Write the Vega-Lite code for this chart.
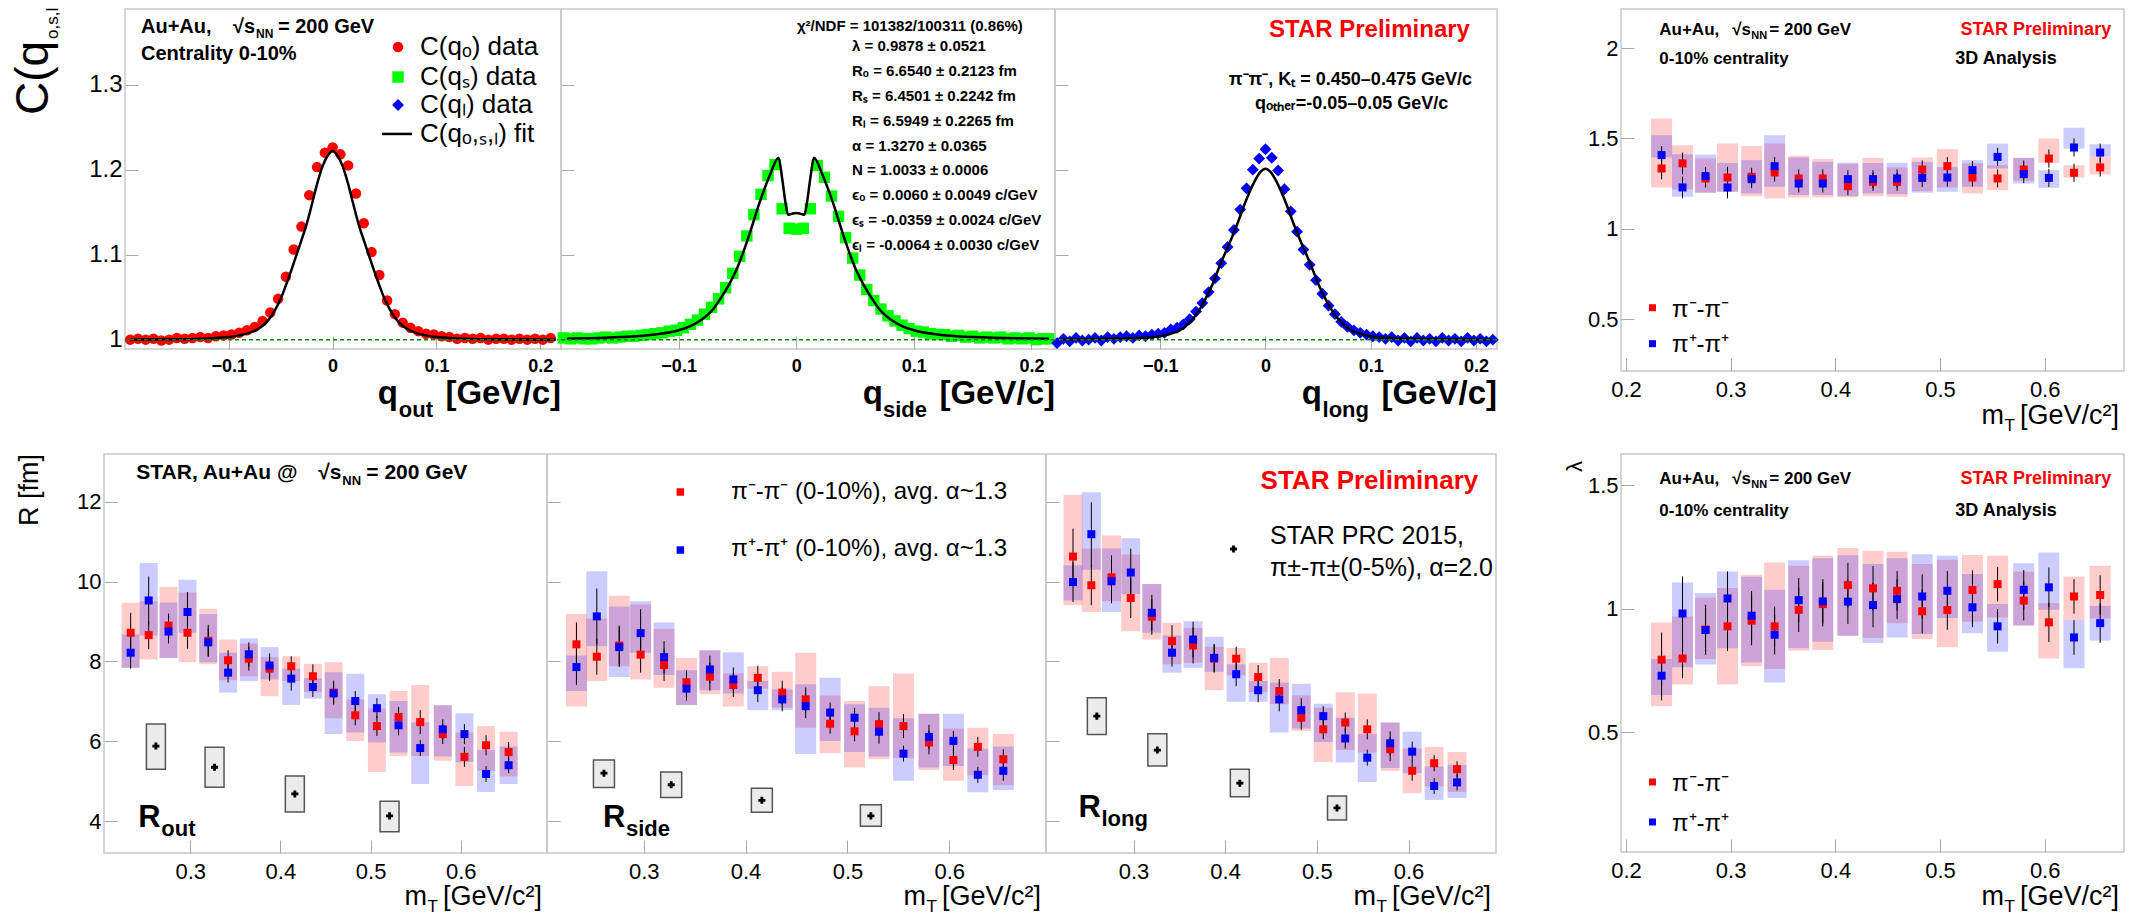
{
"$schema": "https://vega.github.io/schema/vega-lite/v6.json",
"padding": 0,
"autosize": {"type": "pad"},
"background": "#ffffff",
"spacing": 15,
"bounds": "full",
"datasets": {
"cq": [
{"d":"o","q":-0.195,"c":1.0},{"d":"o","q":-0.1875,"c":1.001},{"d":"o","q":-0.18,"c":1.0},{"d":"o","q":-0.1725,"c":1.001},{"d":"o","q":-0.165,"c":0.999},{"d":"o","q":-0.1575,"c":1.0},{"d":"o","q":-0.15,"c":1.002},{"d":"o","q":-0.1425,"c":1.001},{"d":"o","q":-0.135,"c":1.002},{"d":"o","q":-0.1275,"c":1.003},{"d":"o","q":-0.12,"c":1.002},{"d":"o","q":-0.1125,"c":1.004},{"d":"o","q":-0.105,"c":1.005},{"d":"o","q":-0.0975,"c":1.006},{"d":"o","q":-0.09,"c":1.008},{"d":"o","q":-0.0825,"c":1.011},{"d":"o","q":-0.075,"c":1.015},{"d":"o","q":-0.0675,"c":1.022},{"d":"o","q":-0.06,"c":1.032},{"d":"o","q":-0.0525,"c":1.048},{"d":"o","q":-0.045,"c":1.074},{"d":"o","q":-0.0375,"c":1.106},{"d":"o","q":-0.03,"c":1.133},{"d":"o","q":-0.0225,"c":1.17},{"d":"o","q":-0.015,"c":1.203},{"d":"o","q":-0.0075,"c":1.22},{"d":"o","q":0,"c":1.226},{"d":"o","q":0.0075,"c":1.218},{"d":"o","q":0.015,"c":1.205},{"d":"o","q":0.0225,"c":1.172},{"d":"o","q":0.03,"c":1.137},{"d":"o","q":0.0375,"c":1.103},{"d":"o","q":0.045,"c":1.076},{"d":"o","q":0.0525,"c":1.046},{"d":"o","q":0.06,"c":1.03},{"d":"o","q":0.0675,"c":1.02},{"d":"o","q":0.075,"c":1.014},{"d":"o","q":0.0825,"c":1.01},{"d":"o","q":0.09,"c":1.007},{"d":"o","q":0.0975,"c":1.006},{"d":"o","q":0.105,"c":1.004},{"d":"o","q":0.1125,"c":1.003},{"d":"o","q":0.12,"c":1.001},{"d":"o","q":0.1275,"c":1.002},{"d":"o","q":0.135,"c":1.001},{"d":"o","q":0.1425,"c":1.002},{"d":"o","q":0.15,"c":1.0},{"d":"o","q":0.1575,"c":1.001},{"d":"o","q":0.165,"c":1.001},{"d":"o","q":0.1725,"c":1.0},{"d":"o","q":0.18,"c":1.001},{"d":"o","q":0.1875,"c":1.0},{"d":"o","q":0.195,"c":1.001},{"d":"o","q":0.2025,"c":1.0},{"d":"o","q":0.21,"c":1.002},
{"d":"s","q":-0.198,"c":1.002},{"d":"s","q":-0.192,"c":1.001},{"d":"s","q":-0.186,"c":1.002},{"d":"s","q":-0.18,"c":1.001},{"d":"s","q":-0.174,"c":1.001},{"d":"s","q":-0.168,"c":1.002},{"d":"s","q":-0.162,"c":1.003},{"d":"s","q":-0.156,"c":1.002},{"d":"s","q":-0.15,"c":1.003},{"d":"s","q":-0.144,"c":1.004},{"d":"s","q":-0.138,"c":1.004},{"d":"s","q":-0.132,"c":1.005},{"d":"s","q":-0.126,"c":1.006},{"d":"s","q":-0.12,"c":1.007},{"d":"s","q":-0.114,"c":1.008},{"d":"s","q":-0.108,"c":1.01},{"d":"s","q":-0.102,"c":1.011},{"d":"s","q":-0.096,"c":1.014},{"d":"s","q":-0.09,"c":1.018},{"d":"s","q":-0.084,"c":1.023},{"d":"s","q":-0.078,"c":1.03},{"d":"s","q":-0.072,"c":1.038},{"d":"s","q":-0.066,"c":1.048},{"d":"s","q":-0.06,"c":1.061},{"d":"s","q":-0.054,"c":1.078},{"d":"s","q":-0.048,"c":1.098},{"d":"s","q":-0.042,"c":1.122},{"d":"s","q":-0.036,"c":1.147},{"d":"s","q":-0.03,"c":1.171},{"d":"s","q":-0.024,"c":1.193},{"d":"s","q":-0.018,"c":1.206},{"d":"s","q":-0.012,"c":1.154},{"d":"s","q":-0.006,"c":1.131},{"d":"s","q":0,"c":1.13},{"d":"s","q":0.006,"c":1.131},{"d":"s","q":0.012,"c":1.154},{"d":"s","q":0.018,"c":1.205},{"d":"s","q":0.024,"c":1.191},{"d":"s","q":0.03,"c":1.169},{"d":"s","q":0.036,"c":1.145},{"d":"s","q":0.042,"c":1.12},{"d":"s","q":0.048,"c":1.096},{"d":"s","q":0.054,"c":1.076},{"d":"s","q":0.06,"c":1.059},{"d":"s","q":0.066,"c":1.046},{"d":"s","q":0.072,"c":1.036},{"d":"s","q":0.078,"c":1.028},{"d":"s","q":0.084,"c":1.022},{"d":"s","q":0.09,"c":1.017},{"d":"s","q":0.096,"c":1.013},{"d":"s","q":0.102,"c":1.01},{"d":"s","q":0.108,"c":1.009},{"d":"s","q":0.114,"c":1.007},{"d":"s","q":0.12,"c":1.006},{"d":"s","q":0.126,"c":1.006},{"d":"s","q":0.132,"c":1.004},{"d":"s","q":0.138,"c":1.005},{"d":"s","q":0.144,"c":1.003},{"d":"s","q":0.15,"c":1.004},{"d":"s","q":0.156,"c":1.002},{"d":"s","q":0.162,"c":1.003},{"d":"s","q":0.168,"c":1.002},{"d":"s","q":0.174,"c":1.003},{"d":"s","q":0.18,"c":1.001},{"d":"s","q":0.186,"c":1.002},{"d":"s","q":0.192,"c":1.001},{"d":"s","q":0.198,"c":1.002},{"d":"s","q":0.204,"c":1.0},{"d":"s","q":0.21,"c":1.001},{"d":"s","q":0.216,"c":1.001},
{"d":"l","q":-0.198,"c":0.996},{"d":"l","q":-0.192,"c":1.001},{"d":"l","q":-0.186,"c":0.998},{"d":"l","q":-0.18,"c":1.002},{"d":"l","q":-0.174,"c":0.999},{"d":"l","q":-0.168,"c":1.0},{"d":"l","q":-0.162,"c":1.002},{"d":"l","q":-0.156,"c":0.999},{"d":"l","q":-0.15,"c":1.003},{"d":"l","q":-0.144,"c":1.001},{"d":"l","q":-0.138,"c":1.003},{"d":"l","q":-0.132,"c":1.004},{"d":"l","q":-0.126,"c":1.002},{"d":"l","q":-0.12,"c":1.005},{"d":"l","q":-0.114,"c":1.004},{"d":"l","q":-0.108,"c":1.006},{"d":"l","q":-0.102,"c":1.007},{"d":"l","q":-0.096,"c":1.008},{"d":"l","q":-0.09,"c":1.012},{"d":"l","q":-0.084,"c":1.014},{"d":"l","q":-0.078,"c":1.018},{"d":"l","q":-0.072,"c":1.024},{"d":"l","q":-0.066,"c":1.033},{"d":"l","q":-0.06,"c":1.043},{"d":"l","q":-0.054,"c":1.056},{"d":"l","q":-0.048,"c":1.072},{"d":"l","q":-0.042,"c":1.09},{"d":"l","q":-0.036,"c":1.109},{"d":"l","q":-0.03,"c":1.129},{"d":"l","q":-0.024,"c":1.153},{"d":"l","q":-0.018,"c":1.178},{"d":"l","q":-0.012,"c":1.2},{"d":"l","q":-0.006,"c":1.213},{"d":"l","q":0,"c":1.224},{"d":"l","q":0.006,"c":1.214},{"d":"l","q":0.012,"c":1.199},{"d":"l","q":0.018,"c":1.177},{"d":"l","q":0.024,"c":1.151},{"d":"l","q":0.03,"c":1.127},{"d":"l","q":0.036,"c":1.106},{"d":"l","q":0.042,"c":1.088},{"d":"l","q":0.048,"c":1.07},{"d":"l","q":0.054,"c":1.054},{"d":"l","q":0.06,"c":1.04},{"d":"l","q":0.066,"c":1.03},{"d":"l","q":0.072,"c":1.021},{"d":"l","q":0.078,"c":1.015},{"d":"l","q":0.084,"c":1.011},{"d":"l","q":0.09,"c":1.008},{"d":"l","q":0.096,"c":1.006},{"d":"l","q":0.102,"c":1.004},{"d":"l","q":0.108,"c":1.003},{"d":"l","q":0.114,"c":1.001},{"d":"l","q":0.12,"c":1.003},{"d":"l","q":0.126,"c":0.999},{"d":"l","q":0.132,"c":1.002},{"d":"l","q":0.138,"c":0.998},{"d":"l","q":0.144,"c":1.002},{"d":"l","q":0.15,"c":0.999},{"d":"l","q":0.156,"c":1.001},{"d":"l","q":0.162,"c":0.998},{"d":"l","q":0.168,"c":1.002},{"d":"l","q":0.174,"c":0.999},{"d":"l","q":0.18,"c":1.001},{"d":"l","q":0.186,"c":0.998},{"d":"l","q":0.192,"c":1.002},{"d":"l","q":0.198,"c":0.999},{"d":"l","q":0.204,"c":1.001},{"d":"l","q":0.21,"c":0.998},{"d":"l","q":0.216,"c":1.0}
],
"fit": [
{"d":"o","q":-0.195,"c":1.0},{"d":"o","q":-0.15,"c":1.0005},{"d":"o","q":-0.12,"c":1.0015},{"d":"o","q":-0.1,"c":1.003},{"d":"o","q":-0.09,"c":1.005},{"d":"o","q":-0.08,"c":1.008},{"d":"o","q":-0.07,"c":1.014},{"d":"o","q":-0.065,"c":1.019},{"d":"o","q":-0.06,"c":1.026},{"d":"o","q":-0.055,"c":1.036},{"d":"o","q":-0.05,"c":1.048},{"d":"o","q":-0.045,"c":1.064},{"d":"o","q":-0.04,"c":1.081},{"d":"o","q":-0.035,"c":1.099},{"d":"o","q":-0.03,"c":1.117},{"d":"o","q":-0.025,"c":1.136},{"d":"o","q":-0.02,"c":1.159},{"d":"o","q":-0.015,"c":1.183},{"d":"o","q":-0.01,"c":1.203},{"d":"o","q":-0.005,"c":1.216},{"d":"o","q":0,"c":1.222},{"d":"o","q":0.005,"c":1.216},{"d":"o","q":0.01,"c":1.203},{"d":"o","q":0.015,"c":1.183},{"d":"o","q":0.02,"c":1.159},{"d":"o","q":0.025,"c":1.136},{"d":"o","q":0.03,"c":1.117},{"d":"o","q":0.035,"c":1.099},{"d":"o","q":0.04,"c":1.081},{"d":"o","q":0.045,"c":1.064},{"d":"o","q":0.05,"c":1.048},{"d":"o","q":0.055,"c":1.036},{"d":"o","q":0.06,"c":1.026},{"d":"o","q":0.065,"c":1.019},{"d":"o","q":0.07,"c":1.014},{"d":"o","q":0.08,"c":1.008},{"d":"o","q":0.09,"c":1.005},{"d":"o","q":0.1,"c":1.003},{"d":"o","q":0.12,"c":1.0015},{"d":"o","q":0.15,"c":1.0005},{"d":"o","q":0.215,"c":1.0},
{"d":"s","q":-0.195,"c":1.001},{"d":"s","q":-0.15,"c":1.003},{"d":"s","q":-0.12,"c":1.006},{"d":"s","q":-0.1,"c":1.011},{"d":"s","q":-0.09,"c":1.016},{"d":"s","q":-0.08,"c":1.024},{"d":"s","q":-0.07,"c":1.037},{"d":"s","q":-0.066,"c":1.045},{"d":"s","q":-0.06,"c":1.058},{"d":"s","q":-0.05,"c":1.085},{"d":"s","q":-0.04,"c":1.123},{"d":"s","q":-0.031,"c":1.162},{"d":"s","q":-0.0223,"c":1.194},{"d":"s","q":-0.015,"c":1.214},{"d":"s","q":-0.012,"c":1.19},{"d":"s","q":-0.009,"c":1.16},{"d":"s","q":-0.007,"c":1.147},{"d":"s","q":-0.004,"c":1.148},{"d":"s","q":0,"c":1.149},{"d":"s","q":0.004,"c":1.148},{"d":"s","q":0.007,"c":1.147},{"d":"s","q":0.009,"c":1.16},{"d":"s","q":0.012,"c":1.19},{"d":"s","q":0.015,"c":1.214},{"d":"s","q":0.0223,"c":1.194},{"d":"s","q":0.031,"c":1.162},{"d":"s","q":0.04,"c":1.123},{"d":"s","q":0.05,"c":1.085},{"d":"s","q":0.06,"c":1.058},{"d":"s","q":0.066,"c":1.045},{"d":"s","q":0.07,"c":1.037},{"d":"s","q":0.08,"c":1.024},{"d":"s","q":0.09,"c":1.016},{"d":"s","q":0.1,"c":1.011},{"d":"s","q":0.12,"c":1.006},{"d":"s","q":0.15,"c":1.003},{"d":"s","q":0.215,"c":1.001},
{"d":"l","q":-0.195,"c":1.0},{"d":"l","q":-0.15,"c":1.001},{"d":"l","q":-0.12,"c":1.002},{"d":"l","q":-0.1,"c":1.004},{"d":"l","q":-0.09,"c":1.007},{"d":"l","q":-0.08,"c":1.012},{"d":"l","q":-0.075,"c":1.017},{"d":"l","q":-0.07,"c":1.023},{"d":"l","q":-0.065,"c":1.031},{"d":"l","q":-0.06,"c":1.041},{"d":"l","q":-0.055,"c":1.053},{"d":"l","q":-0.05,"c":1.066},{"d":"l","q":-0.045,"c":1.082},{"d":"l","q":-0.04,"c":1.097},{"d":"l","q":-0.035,"c":1.111},{"d":"l","q":-0.03,"c":1.126},{"d":"l","q":-0.025,"c":1.142},{"d":"l","q":-0.02,"c":1.159},{"d":"l","q":-0.015,"c":1.174},{"d":"l","q":-0.01,"c":1.187},{"d":"l","q":-0.005,"c":1.197},{"d":"l","q":0,"c":1.201},{"d":"l","q":0.005,"c":1.197},{"d":"l","q":0.01,"c":1.187},{"d":"l","q":0.015,"c":1.174},{"d":"l","q":0.02,"c":1.159},{"d":"l","q":0.025,"c":1.142},{"d":"l","q":0.03,"c":1.126},{"d":"l","q":0.035,"c":1.111},{"d":"l","q":0.04,"c":1.097},{"d":"l","q":0.045,"c":1.082},{"d":"l","q":0.05,"c":1.066},{"d":"l","q":0.055,"c":1.053},{"d":"l","q":0.06,"c":1.041},{"d":"l","q":0.065,"c":1.031},{"d":"l","q":0.07,"c":1.023},{"d":"l","q":0.075,"c":1.017},{"d":"l","q":0.08,"c":1.012},{"d":"l","q":0.09,"c":1.007},{"d":"l","q":0.1,"c":1.004},{"d":"l","q":0.12,"c":1.002},{"d":"l","q":0.15,"c":1.001},{"d":"l","q":0.215,"c":1.0}
],
"hbt": [
{"p":"o","s":"m","mt":0.234,"v":8.72,"e":0.5,"lo":7.84,"hi":9.47},{"p":"o","s":"p","mt":0.234,"v":8.22,"e":0.4,"lo":7.84,"hi":8.68},
{"p":"o","s":"m","mt":0.254,"v":8.66,"e":0.35,"lo":8.05,"hi":9.51},{"p":"o","s":"p","mt":0.254,"v":9.53,"e":0.6,"lo":8.65,"hi":10.47},
{"p":"o","s":"m","mt":0.276,"v":8.9,"e":0.3,"lo":8.09,"hi":9.87},{"p":"o","s":"p","mt":0.276,"v":8.75,"e":0.3,"lo":8.09,"hi":9.48},
{"p":"o","s":"m","mt":0.297,"v":8.72,"e":0.4,"lo":7.98,"hi":9.73},{"p":"o","s":"p","mt":0.297,"v":9.24,"e":0.5,"lo":8.72,"hi":10.05},
{"p":"o","s":"m","mt":0.32,"v":8.52,"e":0.4,"lo":7.93,"hi":9.32},{"p":"o","s":"p","mt":0.32,"v":8.48,"e":0.35,"lo":7.98,"hi":9.19},
{"p":"o","s":"m","mt":0.342,"v":8.03,"e":0.25,"lo":7.53,"hi":8.55},{"p":"o","s":"p","mt":0.342,"v":7.72,"e":0.25,"lo":7.22,"hi":8.22},
{"p":"o","s":"m","mt":0.365,"v":8.07,"e":0.3,"lo":7.63,"hi":8.45},{"p":"o","s":"p","mt":0.365,"v":8.18,"e":0.3,"lo":7.51,"hi":8.58},
{"p":"o","s":"m","mt":0.388,"v":7.82,"e":0.3,"lo":7.13,"hi":8.11},{"p":"o","s":"p","mt":0.388,"v":7.9,"e":0.3,"lo":7.55,"hi":8.36},
{"p":"o","s":"m","mt":0.412,"v":7.88,"e":0.25,"lo":7.51,"hi":8.13},{"p":"o","s":"p","mt":0.412,"v":7.57,"e":0.3,"lo":6.91,"hi":7.82},
{"p":"o","s":"m","mt":0.436,"v":7.63,"e":0.3,"lo":7.23,"hi":7.94},{"p":"o","s":"p","mt":0.436,"v":7.36,"e":0.25,"lo":7.07,"hi":7.58},
{"p":"o","s":"m","mt":0.459,"v":7.22,"e":0.3,"lo":6.58,"hi":7.98},{"p":"o","s":"p","mt":0.459,"v":7.2,"e":0.25,"lo":6.18,"hi":7.73},
{"p":"o","s":"m","mt":0.483,"v":6.65,"e":0.25,"lo":6.01,"hi":7.05},{"p":"o","s":"p","mt":0.483,"v":7.01,"e":0.25,"lo":6.22,"hi":7.69},
{"p":"o","s":"m","mt":0.507,"v":6.38,"e":0.25,"lo":5.23,"hi":6.82},{"p":"o","s":"p","mt":0.507,"v":6.83,"e":0.25,"lo":5.97,"hi":7.18},
{"p":"o","s":"m","mt":0.531,"v":6.61,"e":0.25,"lo":5.63,"hi":7.26},{"p":"o","s":"p","mt":0.531,"v":6.4,"e":0.25,"lo":5.72,"hi":7.01},
{"p":"o","s":"m","mt":0.555,"v":6.48,"e":0.3,"lo":5.63,"hi":7.41},{"p":"o","s":"p","mt":0.555,"v":5.83,"e":0.2,"lo":4.93,"hi":6.48},
{"p":"o","s":"m","mt":0.58,"v":6.18,"e":0.25,"lo":5.51,"hi":6.9},{"p":"o","s":"p","mt":0.58,"v":6.3,"e":0.25,"lo":5.62,"hi":6.9},
{"p":"o","s":"m","mt":0.604,"v":5.61,"e":0.25,"lo":4.88,"hi":6.22},{"p":"o","s":"p","mt":0.604,"v":6.18,"e":0.25,"lo":5.48,"hi":6.7},
{"p":"o","s":"m","mt":0.628,"v":5.9,"e":0.25,"lo":5.26,"hi":6.38},{"p":"o","s":"p","mt":0.628,"v":5.18,"e":0.2,"lo":4.73,"hi":5.78},
{"p":"o","s":"m","mt":0.653,"v":5.73,"e":0.25,"lo":5.12,"hi":6.24},{"p":"o","s":"p","mt":0.653,"v":5.4,"e":0.2,"lo":4.93,"hi":5.87},
{"p":"s","s":"m","mt":0.234,"v":8.43,"e":0.55,"lo":6.87,"hi":9.19},{"p":"s","s":"p","mt":0.234,"v":7.86,"e":0.45,"lo":7.26,"hi":8.15},
{"p":"s","s":"m","mt":0.254,"v":8.12,"e":0.45,"lo":7.51,"hi":9.08},{"p":"s","s":"p","mt":0.254,"v":9.13,"e":0.7,"lo":8.38,"hi":10.26},
{"p":"s","s":"m","mt":0.276,"v":8.4,"e":0.5,"lo":7.88,"hi":9.65},{"p":"s","s":"p","mt":0.276,"v":8.36,"e":0.5,"lo":7.61,"hi":9.38},
{"p":"s","s":"m","mt":0.297,"v":8.17,"e":0.45,"lo":7.55,"hi":9.43},{"p":"s","s":"p","mt":0.297,"v":8.71,"e":0.6,"lo":8.22,"hi":9.51},
{"p":"s","s":"m","mt":0.32,"v":7.91,"e":0.4,"lo":7.34,"hi":8.82},{"p":"s","s":"p","mt":0.32,"v":8.11,"e":0.4,"lo":7.66,"hi":8.98},
{"p":"s","s":"m","mt":0.342,"v":7.48,"e":0.3,"lo":6.91,"hi":8.09},{"p":"s","s":"p","mt":0.342,"v":7.32,"e":0.3,"lo":6.91,"hi":7.78},
{"p":"s","s":"m","mt":0.365,"v":7.62,"e":0.35,"lo":7.18,"hi":8.28},{"p":"s","s":"p","mt":0.365,"v":7.8,"e":0.35,"lo":7.28,"hi":8.28},
{"p":"s","s":"m","mt":0.388,"v":7.41,"e":0.3,"lo":6.87,"hi":7.7},{"p":"s","s":"p","mt":0.388,"v":7.55,"e":0.3,"lo":7.2,"hi":8.23},
{"p":"s","s":"m","mt":0.412,"v":7.59,"e":0.3,"lo":7.32,"hi":7.88},{"p":"s","s":"p","mt":0.412,"v":7.28,"e":0.3,"lo":6.78,"hi":7.51},
{"p":"s","s":"m","mt":0.436,"v":7.22,"e":0.3,"lo":6.84,"hi":7.74},{"p":"s","s":"p","mt":0.436,"v":7.05,"e":0.3,"lo":6.78,"hi":7.3},
{"p":"s","s":"m","mt":0.459,"v":7.05,"e":0.3,"lo":6.34,"hi":8.22},{"p":"s","s":"p","mt":0.459,"v":6.88,"e":0.3,"lo":5.68,"hi":7.43},
{"p":"s","s":"m","mt":0.483,"v":6.44,"e":0.25,"lo":5.7,"hi":7.15},{"p":"s","s":"p","mt":0.483,"v":6.72,"e":0.25,"lo":6.01,"hi":7.59},
{"p":"s","s":"m","mt":0.507,"v":6.25,"e":0.25,"lo":5.34,"hi":7.01},{"p":"s","s":"p","mt":0.507,"v":6.59,"e":0.25,"lo":5.73,"hi":6.93},
{"p":"s","s":"m","mt":0.531,"v":6.43,"e":0.3,"lo":5.55,"hi":7.38},{"p":"s","s":"p","mt":0.531,"v":6.24,"e":0.3,"lo":5.62,"hi":6.84},
{"p":"s","s":"m","mt":0.555,"v":6.38,"e":0.3,"lo":5.58,"hi":7.7},{"p":"s","s":"p","mt":0.555,"v":5.69,"e":0.2,"lo":5.01,"hi":6.58},
{"p":"s","s":"m","mt":0.58,"v":5.97,"e":0.3,"lo":5.28,"hi":6.69},{"p":"s","s":"p","mt":0.58,"v":6.11,"e":0.3,"lo":5.34,"hi":6.69},
{"p":"s","s":"m","mt":0.604,"v":5.53,"e":0.25,"lo":5.01,"hi":6.32},{"p":"s","s":"p","mt":0.604,"v":6.01,"e":0.25,"lo":5.38,"hi":6.69},
{"p":"s","s":"m","mt":0.628,"v":5.86,"e":0.25,"lo":5.15,"hi":6.34},{"p":"s","s":"p","mt":0.628,"v":5.16,"e":0.2,"lo":4.72,"hi":5.82},
{"p":"s","s":"m","mt":0.653,"v":5.55,"e":0.25,"lo":4.9,"hi":6.18},{"p":"s","s":"p","mt":0.653,"v":5.26,"e":0.25,"lo":4.78,"hi":5.87},
{"p":"l","s":"m","mt":0.234,"v":10.63,"e":0.7,"lo":9.41,"hi":12.18},{"p":"l","s":"p","mt":0.234,"v":9.99,"e":0.5,"lo":9.53,"hi":10.41},
{"p":"l","s":"m","mt":0.254,"v":9.91,"e":0.5,"lo":9.24,"hi":10.83},{"p":"l","s":"p","mt":0.254,"v":11.19,"e":0.8,"lo":10.3,"hi":12.24},
{"p":"l","s":"m","mt":0.276,"v":10.11,"e":0.55,"lo":9.51,"hi":11.16},{"p":"l","s":"p","mt":0.276,"v":10.01,"e":0.55,"lo":9.24,"hi":10.83},
{"p":"l","s":"m","mt":0.297,"v":9.59,"e":0.5,"lo":8.76,"hi":10.68},{"p":"l","s":"p","mt":0.297,"v":10.23,"e":0.6,"lo":9.69,"hi":11.09},
{"p":"l","s":"m","mt":0.32,"v":9.12,"e":0.45,"lo":8.55,"hi":9.94},{"p":"l","s":"p","mt":0.32,"v":9.22,"e":0.45,"lo":8.72,"hi":9.94},
{"p":"l","s":"m","mt":0.342,"v":8.51,"e":0.4,"lo":7.93,"hi":8.97},{"p":"l","s":"p","mt":0.342,"v":8.22,"e":0.35,"lo":7.72,"hi":8.65},
{"p":"l","s":"m","mt":0.365,"v":8.4,"e":0.45,"lo":7.97,"hi":8.84},{"p":"l","s":"p","mt":0.365,"v":8.55,"e":0.45,"lo":7.84,"hi":9.01},
{"p":"l","s":"m","mt":0.388,"v":8.07,"e":0.35,"lo":7.28,"hi":8.37},{"p":"l","s":"p","mt":0.388,"v":8.09,"e":0.35,"lo":7.74,"hi":8.62},
{"p":"l","s":"m","mt":0.412,"v":8.07,"e":0.3,"lo":7.65,"hi":8.34},{"p":"l","s":"p","mt":0.412,"v":7.68,"e":0.3,"lo":6.99,"hi":7.93},
{"p":"l","s":"m","mt":0.436,"v":7.61,"e":0.3,"lo":7.23,"hi":7.97},{"p":"l","s":"p","mt":0.436,"v":7.28,"e":0.3,"lo":6.99,"hi":7.51},
{"p":"l","s":"m","mt":0.459,"v":7.26,"e":0.3,"lo":6.93,"hi":8.09},{"p":"l","s":"p","mt":0.459,"v":7.05,"e":0.3,"lo":6.22,"hi":7.47},
{"p":"l","s":"m","mt":0.483,"v":6.59,"e":0.3,"lo":6.26,"hi":7.15},{"p":"l","s":"p","mt":0.483,"v":6.78,"e":0.3,"lo":6.32,"hi":7.44},
{"p":"l","s":"m","mt":0.507,"v":6.3,"e":0.25,"lo":5.48,"hi":6.84},{"p":"l","s":"p","mt":0.507,"v":6.63,"e":0.25,"lo":5.98,"hi":6.94},
{"p":"l","s":"m","mt":0.531,"v":6.47,"e":0.25,"lo":5.78,"hi":7.23},{"p":"l","s":"p","mt":0.531,"v":6.07,"e":0.25,"lo":5.47,"hi":6.59},
{"p":"l","s":"m","mt":0.555,"v":6.3,"e":0.25,"lo":5.72,"hi":7.2},{"p":"l","s":"p","mt":0.555,"v":5.59,"e":0.2,"lo":4.98,"hi":6.18},
{"p":"l","s":"m","mt":0.58,"v":5.8,"e":0.3,"lo":5.26,"hi":6.47},{"p":"l","s":"p","mt":0.58,"v":5.95,"e":0.3,"lo":5.33,"hi":6.47},
{"p":"l","s":"m","mt":0.604,"v":5.26,"e":0.25,"lo":4.7,"hi":5.82},{"p":"l","s":"p","mt":0.604,"v":5.74,"e":0.25,"lo":5.2,"hi":6.24},
{"p":"l","s":"m","mt":0.628,"v":5.45,"e":0.2,"lo":4.87,"hi":5.86},{"p":"l","s":"p","mt":0.628,"v":4.88,"e":0.2,"lo":4.53,"hi":5.37},
{"p":"l","s":"m","mt":0.653,"v":5.3,"e":0.2,"lo":4.73,"hi":5.73},{"p":"l","s":"p","mt":0.653,"v":4.97,"e":0.2,"lo":4.58,"hi":5.41},
{"p":"lam","s":"m","mt":0.234,"v":0.793,"e":0.11,"lo":0.604,"hi":0.944},{"p":"lam","s":"p","mt":0.234,"v":0.728,"e":0.1,"lo":0.65,"hi":0.796},
{"p":"lam","s":"m","mt":0.254,"v":0.798,"e":0.08,"lo":0.692,"hi":0.968},{"p":"lam","s":"p","mt":0.254,"v":0.98,"e":0.15,"lo":0.762,"hi":1.106},
{"p":"lam","s":"m","mt":0.276,"v":0.915,"e":0.1,"lo":0.796,"hi":1.045},{"p":"lam","s":"p","mt":0.276,"v":0.913,"e":0.1,"lo":0.773,"hi":1.063},
{"p":"lam","s":"m","mt":0.297,"v":0.928,"e":0.1,"lo":0.692,"hi":1.083},{"p":"lam","s":"p","mt":0.297,"v":1.041,"e":0.11,"lo":0.839,"hi":1.15},
{"p":"lam","s":"m","mt":0.32,"v":0.951,"e":0.1,"lo":0.766,"hi":1.137},{"p":"lam","s":"p","mt":0.32,"v":0.971,"e":0.1,"lo":0.782,"hi":1.129},
{"p":"lam","s":"m","mt":0.342,"v":0.928,"e":0.08,"lo":0.755,"hi":1.187},{"p":"lam","s":"p","mt":0.342,"v":0.894,"e":0.08,"lo":0.701,"hi":1.076},
{"p":"lam","s":"m","mt":0.365,"v":0.995,"e":0.09,"lo":0.829,"hi":1.173},{"p":"lam","s":"p","mt":0.365,"v":1.034,"e":0.09,"lo":0.839,"hi":1.196},
{"p":"lam","s":"m","mt":0.388,"v":1.018,"e":0.09,"lo":0.832,"hi":1.214},{"p":"lam","s":"p","mt":0.388,"v":1.029,"e":0.09,"lo":0.866,"hi":1.204},
{"p":"lam","s":"m","mt":0.412,"v":1.095,"e":0.09,"lo":0.89,"hi":1.245},{"p":"lam","s":"p","mt":0.412,"v":1.028,"e":0.09,"lo":0.89,"hi":1.216},
{"p":"lam","s":"m","mt":0.436,"v":1.082,"e":0.09,"lo":0.881,"hi":1.234},{"p":"lam","s":"p","mt":0.436,"v":1.014,"e":0.09,"lo":0.86,"hi":1.18},
{"p":"lam","s":"m","mt":0.459,"v":1.072,"e":0.08,"lo":0.94,"hi":1.23},{"p":"lam","s":"p","mt":0.459,"v":1.038,"e":0.08,"lo":0.883,"hi":1.204},
{"p":"lam","s":"m","mt":0.483,"v":0.989,"e":0.09,"lo":0.877,"hi":1.18},{"p":"lam","s":"p","mt":0.483,"v":1.049,"e":0.09,"lo":0.897,"hi":1.22},
{"p":"lam","s":"m","mt":0.507,"v":0.994,"e":0.08,"lo":0.843,"hi":1.198},{"p":"lam","s":"p","mt":0.507,"v":1.072,"e":0.08,"lo":0.962,"hi":1.214},
{"p":"lam","s":"m","mt":0.531,"v":1.075,"e":0.08,"lo":0.947,"hi":1.217},{"p":"lam","s":"p","mt":0.531,"v":1.005,"e":0.08,"lo":0.9,"hi":1.14},
{"p":"lam","s":"m","mt":0.555,"v":1.099,"e":0.07,"lo":0.964,"hi":1.214},{"p":"lam","s":"p","mt":0.555,"v":0.928,"e":0.07,"lo":0.825,"hi":1.018},
{"p":"lam","s":"m","mt":0.58,"v":1.032,"e":0.08,"lo":0.931,"hi":1.149},{"p":"lam","s":"p","mt":0.58,"v":1.076,"e":0.08,"lo":0.931,"hi":1.184},
{"p":"lam","s":"m","mt":0.604,"v":0.944,"e":0.08,"lo":0.798,"hi":1.022},{"p":"lam","s":"p","mt":0.604,"v":1.086,"e":0.08,"lo":0.995,"hi":1.227},
{"p":"lam","s":"m","mt":0.628,"v":1.049,"e":0.07,"lo":0.954,"hi":1.13},{"p":"lam","s":"p","mt":0.628,"v":0.883,"e":0.07,"lo":0.758,"hi":0.954},
{"p":"lam","s":"m","mt":0.653,"v":1.055,"e":0.08,"lo":0.96,"hi":1.173},{"p":"lam","s":"p","mt":0.653,"v":0.941,"e":0.08,"lo":0.87,"hi":1.011},
{"p":"alp","s":"m","mt":0.234,"v":1.334,"e":0.06,"lo":1.229,"hi":1.61},{"p":"alp","s":"p","mt":0.234,"v":1.408,"e":0.05,"lo":1.395,"hi":1.518},
{"p":"alp","s":"m","mt":0.254,"v":1.362,"e":0.06,"lo":1.218,"hi":1.463},{"p":"alp","s":"p","mt":0.254,"v":1.229,"e":0.06,"lo":1.177,"hi":1.413},
{"p":"alp","s":"m","mt":0.276,"v":1.279,"e":0.05,"lo":1.2,"hi":1.389},{"p":"alp","s":"p","mt":0.276,"v":1.292,"e":0.05,"lo":1.2,"hi":1.411},
{"p":"alp","s":"m","mt":0.297,"v":1.284,"e":0.06,"lo":1.205,"hi":1.472},{"p":"alp","s":"p","mt":0.297,"v":1.229,"e":0.06,"lo":1.205,"hi":1.365},
{"p":"alp","s":"m","mt":0.32,"v":1.288,"e":0.05,"lo":1.181,"hi":1.459},{"p":"alp","s":"p","mt":0.32,"v":1.275,"e":0.05,"lo":1.196,"hi":1.38},
{"p":"alp","s":"m","mt":0.342,"v":1.312,"e":0.05,"lo":1.168,"hi":1.472},{"p":"alp","s":"p","mt":0.342,"v":1.347,"e":0.05,"lo":1.233,"hi":1.518},
{"p":"alp","s":"m","mt":0.365,"v":1.279,"e":0.05,"lo":1.174,"hi":1.404},{"p":"alp","s":"p","mt":0.365,"v":1.251,"e":0.05,"lo":1.187,"hi":1.395},
{"p":"alp","s":"m","mt":0.388,"v":1.279,"e":0.05,"lo":1.174,"hi":1.387},{"p":"alp","s":"p","mt":0.388,"v":1.251,"e":0.05,"lo":1.187,"hi":1.371},
{"p":"alp","s":"m","mt":0.412,"v":1.236,"e":0.05,"lo":1.174,"hi":1.358},{"p":"alp","s":"p","mt":0.412,"v":1.275,"e":0.05,"lo":1.181,"hi":1.367},
{"p":"alp","s":"m","mt":0.436,"v":1.26,"e":0.05,"lo":1.181,"hi":1.393},{"p":"alp","s":"p","mt":0.436,"v":1.275,"e":0.05,"lo":1.196,"hi":1.365},
{"p":"alp","s":"m","mt":0.459,"v":1.26,"e":0.05,"lo":1.177,"hi":1.34},{"p":"alp","s":"p","mt":0.459,"v":1.279,"e":0.05,"lo":1.192,"hi":1.365},
{"p":"alp","s":"m","mt":0.483,"v":1.328,"e":0.05,"lo":1.209,"hi":1.395},{"p":"alp","s":"p","mt":0.483,"v":1.282,"e":0.05,"lo":1.2,"hi":1.371},
{"p":"alp","s":"m","mt":0.507,"v":1.347,"e":0.05,"lo":1.229,"hi":1.441},{"p":"alp","s":"p","mt":0.507,"v":1.284,"e":0.05,"lo":1.205,"hi":1.343},
{"p":"alp","s":"m","mt":0.531,"v":1.284,"e":0.05,"lo":1.196,"hi":1.362},{"p":"alp","s":"p","mt":0.531,"v":1.325,"e":0.05,"lo":1.233,"hi":1.38},
{"p":"alp","s":"m","mt":0.555,"v":1.279,"e":0.05,"lo":1.214,"hi":1.352},{"p":"alp","s":"p","mt":0.555,"v":1.398,"e":0.05,"lo":1.334,"hi":1.472},
{"p":"alp","s":"m","mt":0.58,"v":1.328,"e":0.05,"lo":1.266,"hi":1.393},{"p":"alp","s":"p","mt":0.58,"v":1.303,"e":0.05,"lo":1.251,"hi":1.393},
{"p":"alp","s":"m","mt":0.604,"v":1.389,"e":0.05,"lo":1.365,"hi":1.5},{"p":"alp","s":"p","mt":0.604,"v":1.282,"e":0.05,"lo":1.227,"hi":1.325},
{"p":"alp","s":"m","mt":0.628,"v":1.31,"e":0.05,"lo":1.284,"hi":1.352},{"p":"alp","s":"p","mt":0.628,"v":1.45,"e":0.05,"lo":1.444,"hi":1.559},
{"p":"alp","s":"m","mt":0.653,"v":1.34,"e":0.05,"lo":1.301,"hi":1.402},{"p":"alp","s":"p","mt":0.653,"v":1.422,"e":0.05,"lo":1.402,"hi":1.468}
],
"prc": [
{"p":"o","mt":0.262,"v":5.88,"lo":5.3,"hi":6.43},{"p":"o","mt":0.327,"v":5.35,"lo":4.85,"hi":5.85},{"p":"o","mt":0.416,"v":4.68,"lo":4.23,"hi":5.13},{"p":"o","mt":0.521,"v":4.13,"lo":3.73,"hi":4.5},
{"p":"s","mt":0.261,"v":5.2,"lo":4.84,"hi":5.53},{"p":"s","mt":0.327,"v":4.91,"lo":4.59,"hi":5.23},{"p":"s","mt":0.416,"v":4.52,"lo":4.22,"hi":4.82},{"p":"s","mt":0.523,"v":4.13,"lo":3.87,"hi":4.41},
{"p":"l","mt":0.26,"v":6.63,"lo":6.17,"hi":7.09},{"p":"l","mt":0.326,"v":5.78,"lo":5.38,"hi":6.19},{"p":"l","mt":0.416,"v":4.95,"lo":4.61,"hi":5.3},{"p":"l","mt":0.522,"v":4.33,"lo":4.03,"hi":4.63}
]
},
"vconcat": [
{"hconcat": [
{"width": 23, "height": 10, "view": {"stroke": null}, "data": {"values": [{}]}, "mark": {"type": "text", "text": ""}, "encoding": {}},
{"width": 436, "height": 340, "layer": [
 {"data": {"name": "cq"}, "transform": [{"filter": "datum.d=='o'"}], "mark": {"type": "point", "shape": "circle", "filled": true, "size": 110, "color": "#ff0000", "opacity": 1},
  "encoding": {"x": {"field": "q", "type": "quantitative", "scale": {"domain": [-0.2, 0.22], "nice": false, "zero": false}, "axis": {"title": null, "values": [-0.1, 0, 0.1, 0.2], "format": "~g", "labelFontWeight": "bold", "labelFontSize": 18}},
   "y": {"field": "c", "type": "quantitative", "scale": {"domain": [0.989, 1.389], "nice": false, "zero": false}, "axis": {"title": null, "values": [1, 1.1, 1.2, 1.3], "format": "~g", "labelFontSize": 24}}}},
 {"data": {"name": "fit"}, "transform": [{"filter": "datum.d=='o'"}], "mark": {"type": "line", "color": "#000000", "strokeWidth": 2.5, "interpolate": "monotone"}, "encoding": {"x": {"field": "q", "type": "quantitative"}, "y": {"field": "c", "type": "quantitative"}}},
 {"data": {"values": [{}]}, "mark": {"type": "rule", "color": "#008800", "strokeDash": [4, 3], "strokeWidth": 1.5}, "encoding": {"y": {"datum": 1, "type": "quantitative"}}},
 {"data": {"values": [{}]}, "mark": {"type": "point", "opacity": 0, "size": 1}, "encoding": {"x": {"datum": -0.3185, "type": "quantitative"}, "y": {"datum": 1.3972, "type": "quantitative"}}},
 {"data": {"values": [{}]}, "mark": {"type": "text", "text": "Au+Au,", "fontSize": 20, "fontWeight": "bold"}, "encoding": {"x": {"datum": -0.1846, "type": "quantitative"}, "y": {"datum": 1.3608, "type": "quantitative"}}},
 {"data": {"values": [{}]}, "mark": {"type": "text", "text": "√s", "fontSize": 20, "fontWeight": "bold", "dx": 92}, "encoding": {"x": {"datum": -0.1846, "type": "quantitative"}, "y": {"datum": 1.3608, "type": "quantitative"}}},
 {"data": {"values": [{}]}, "mark": {"type": "text", "text": "NN", "fontSize": 12, "fontWeight": "bold", "dx": 115, "dy": 5}, "encoding": {"x": {"datum": -0.1846, "type": "quantitative"}, "y": {"datum": 1.3608, "type": "quantitative"}}},
 {"data": {"values": [{}]}, "mark": {"type": "text", "text": "= 200 GeV", "fontSize": 20, "fontWeight": "bold", "dx": 137}, "encoding": {"x": {"datum": -0.1846, "type": "quantitative"}, "y": {"datum": 1.3608, "type": "quantitative"}}},
 {"data": {"values": [{}]}, "mark": {"type": "text", "text": "Centrality 0-10%", "fontSize": 20, "fontWeight": "bold"}, "encoding": {"x": {"datum": -0.1846, "type": "quantitative"}, "y": {"datum": 1.329, "type": "quantitative"}}},
 {"data": {"values": [{}]}, "mark": {"type": "point", "shape": "circle", "filled": true, "size": 110, "color": "#ff0000", "opacity": 1}, "encoding": {"x": {"datum": 0.063, "type": "quantitative"}, "y": {"datum": 1.3443, "type": "quantitative"}}},
 {"data": {"values": [{}]}, "mark": {"type": "point", "shape": "square", "filled": true, "size": 130, "color": "#00ff00", "opacity": 1}, "encoding": {"x": {"datum": 0.063, "type": "quantitative"}, "y": {"datum": 1.309, "type": "quantitative"}}},
 {"data": {"values": [{}]}, "mark": {"type": "point", "shape": "diamond", "filled": true, "size": 140, "color": "#0000ff", "opacity": 1}, "encoding": {"x": {"datum": 0.063, "type": "quantitative"}, "y": {"datum": 1.2761, "type": "quantitative"}}},
 {"data": {"values": [{}]}, "mark": {"type": "rule", "color": "#000000", "strokeWidth": 2.5}, "encoding": {"x": {"datum": 0.0476, "type": "quantitative"}, "x2": {"datum": 0.0765}, "y": {"datum": 1.242, "type": "quantitative"}}},
 {"data": {"values": [{}]}, "mark": {"type": "text", "text": "C(qₒ) data", "fontSize": 26, "baseline": "middle"}, "encoding": {"x": {"datum": 0.0842, "type": "quantitative"}, "y": {"datum": 1.3443, "type": "quantitative"}}},
 {"data": {"values": [{}]}, "mark": {"type": "text", "text": "C(qₛ) data", "fontSize": 26, "baseline": "middle"}, "encoding": {"x": {"datum": 0.0842, "type": "quantitative"}, "y": {"datum": 1.309, "type": "quantitative"}}},
 {"data": {"values": [{}]}, "mark": {"type": "text", "text": "C(qₗ) data", "fontSize": 26, "baseline": "middle"}, "encoding": {"x": {"datum": 0.0842, "type": "quantitative"}, "y": {"datum": 1.2761, "type": "quantitative"}}},
 {"data": {"values": [{}]}, "mark": {"type": "text", "text": "C(qₒ,ₛ,ₗ) fit", "fontSize": 26, "baseline": "middle"}, "encoding": {"x": {"datum": 0.0842, "type": "quantitative"}, "y": {"datum": 1.242, "type": "quantitative"}}},
 {"data": {"values": [{}]}, "mark": {"type": "text", "text": "C(q", "fontSize": 46, "angle": 270}, "encoding": {"x": {"datum": -0.2742, "type": "quantitative"}, "y": {"datum": 1.2643, "type": "quantitative"}}},
 {"data": {"values": [{}]}, "mark": {"type": "text", "text": "o,s,l", "fontSize": 17, "angle": 270, "dx": 76, "dy": 10}, "encoding": {"x": {"datum": -0.2742, "type": "quantitative"}, "y": {"datum": 1.2643, "type": "quantitative"}}},
 {"data": {"values": [{}]}, "mark": {"type": "text", "text": "[GeV/c]", "fontSize": 33, "fontWeight": "bold", "align": "right", "dy": 55}, "encoding": {"x": {"datum": 0.22, "type": "quantitative"}, "y": {"datum": 0.989, "type": "quantitative"}}},
 {"data": {"values": [{}]}, "mark": {"type": "text", "text": "out", "fontSize": 22, "fontWeight": "bold", "align": "right", "dx": -128, "dy": 68}, "encoding": {"x": {"datum": 0.22, "type": "quantitative"}, "y": {"datum": 0.989, "type": "quantitative"}}},
 {"data": {"values": [{}]}, "mark": {"type": "text", "text": "q", "fontSize": 33, "fontWeight": "bold", "align": "right", "dx": -163, "dy": 55}, "encoding": {"x": {"datum": 0.22, "type": "quantitative"}, "y": {"datum": 0.989, "type": "quantitative"}}}
]},
{"width": 494, "height": 340, "layer": [
 {"data": {"name": "cq"}, "transform": [{"filter": "datum.d=='s'"}], "mark": {"type": "point", "shape": "square", "filled": true, "size": 130, "color": "#00ff00", "opacity": 1},
  "encoding": {"x": {"field": "q", "type": "quantitative", "scale": {"domain": [-0.2, 0.22], "nice": false, "zero": false}, "axis": {"title": null, "values": [-0.1, 0, 0.1, 0.2], "format": "~g", "labelFontWeight": "bold", "labelFontSize": 18}},
   "y": {"field": "c", "type": "quantitative", "scale": {"domain": [0.989, 1.389], "nice": false, "zero": false}, "axis": {"title": null, "values": [1, 1.1, 1.2, 1.3], "labels": false}}}},
 {"data": {"name": "fit"}, "transform": [{"filter": "datum.d=='s'"}], "mark": {"type": "line", "color": "#000000", "strokeWidth": 2.5, "interpolate": "monotone"}, "encoding": {"x": {"field": "q", "type": "quantitative"}, "y": {"field": "c", "type": "quantitative"}}},
 {"data": {"values": [{}]}, "mark": {"type": "rule", "color": "#008800", "strokeDash": [4, 3], "strokeWidth": 1.5}, "encoding": {"y": {"datum": 1, "type": "quantitative"}}},
 {"data": {"values": [{}]}, "mark": {"type": "text", "text": "χ²/NDF = 101382/100311 (0.86%)", "fontSize": 15, "fontWeight": "bold"}, "encoding": {"x": {"datum": 0.0006, "type": "quantitative"}, "y": {"datum": 1.3631, "type": "quantitative"}}},
 {"data": {"values": [{}]}, "mark": {"type": "text", "text": "λ   = 0.9878  ± 0.0521\nRₒ = 6.6540  ± 0.2123 fm\nRₛ = 6.4501  ± 0.2242 fm\nRₗ  = 6.5949  ± 0.2265 fm\nα  = 1.3270  ± 0.0365\nN  = 1.0033  ± 0.0006\nϵₒ = 0.0060  ± 0.0049 c/GeV\nϵₛ = -0.0359  ± 0.0024 c/GeV\nϵₗ = -0.0064  ± 0.0030 c/GeV", "lineBreak": "\n", "lineHeight": 24.9, "fontSize": 15, "fontWeight": "bold"}, "encoding": {"x": {"datum": 0.0474, "type": "quantitative"}, "y": {"datum": 1.3396, "type": "quantitative"}}},
 {"data": {"values": [{}]}, "mark": {"type": "text", "text": "[GeV/c]", "fontSize": 33, "fontWeight": "bold", "align": "right", "dy": 55}, "encoding": {"x": {"datum": 0.22, "type": "quantitative"}, "y": {"datum": 0.989, "type": "quantitative"}}},
 {"data": {"values": [{}]}, "mark": {"type": "text", "text": "side", "fontSize": 22, "fontWeight": "bold", "align": "right", "dx": -128, "dy": 68}, "encoding": {"x": {"datum": 0.22, "type": "quantitative"}, "y": {"datum": 0.989, "type": "quantitative"}}},
 {"data": {"values": [{}]}, "mark": {"type": "text", "text": "q", "fontSize": 33, "fontWeight": "bold", "align": "right", "dx": -172, "dy": 55}, "encoding": {"x": {"datum": 0.22, "type": "quantitative"}, "y": {"datum": 0.989, "type": "quantitative"}}}
]},
{"width": 442, "height": 340, "layer": [
 {"data": {"name": "cq"}, "transform": [{"filter": "datum.d=='l'"}], "mark": {"type": "point", "shape": "diamond", "filled": true, "size": 140, "color": "#0000ff", "opacity": 1},
  "encoding": {"x": {"field": "q", "type": "quantitative", "scale": {"domain": [-0.2, 0.22], "nice": false, "zero": false}, "axis": {"title": null, "values": [-0.1, 0, 0.1, 0.2], "format": "~g", "labelFontWeight": "bold", "labelFontSize": 18}},
   "y": {"field": "c", "type": "quantitative", "scale": {"domain": [0.989, 1.389], "nice": false, "zero": false}, "axis": {"title": null, "values": [1, 1.1, 1.2, 1.3], "labels": false}}}},
 {"data": {"name": "fit"}, "transform": [{"filter": "datum.d=='l'"}], "mark": {"type": "line", "color": "#000000", "strokeWidth": 2.5, "interpolate": "monotone"}, "encoding": {"x": {"field": "q", "type": "quantitative"}, "y": {"field": "c", "type": "quantitative"}}},
 {"data": {"values": [{}]}, "mark": {"type": "rule", "color": "#008800", "strokeDash": [4, 3], "strokeWidth": 1.5}, "encoding": {"y": {"datum": 1, "type": "quantitative"}}},
 {"data": {"values": [{}]}, "mark": {"type": "text", "text": "STAR Preliminary", "fontSize": 24, "fontWeight": "bold", "color": "#ff0000", "align": "right"}, "encoding": {"x": {"datum": 0.1943, "type": "quantitative"}, "y": {"datum": 1.356, "type": "quantitative"}}},
 {"data": {"values": [{}]}, "mark": {"type": "text", "text": "π⁻π⁻, Kₜ = 0.450–0.475 GeV/c", "fontSize": 18, "fontWeight": "bold", "align": "right"}, "encoding": {"x": {"datum": 0.1962, "type": "quantitative"}, "y": {"datum": 1.2996, "type": "quantitative"}}},
 {"data": {"values": [{}]}, "mark": {"type": "text", "text": "qₒₜₕₑᵣ=-0.05–0.05 GeV/c", "fontSize": 18, "fontWeight": "bold"}, "encoding": {"x": {"datum": -0.01, "type": "quantitative"}, "y": {"datum": 1.2714, "type": "quantitative"}}},
 {"data": {"values": [{}]}, "mark": {"type": "text", "text": "[GeV/c]", "fontSize": 33, "fontWeight": "bold", "align": "right", "dy": 55}, "encoding": {"x": {"datum": 0.22, "type": "quantitative"}, "y": {"datum": 0.989, "type": "quantitative"}}},
 {"data": {"values": [{}]}, "mark": {"type": "text", "text": "long", "fontSize": 22, "fontWeight": "bold", "align": "right", "dx": -128, "dy": 68}, "encoding": {"x": {"datum": 0.22, "type": "quantitative"}, "y": {"datum": 0.989, "type": "quantitative"}}},
 {"data": {"values": [{}]}, "mark": {"type": "text", "text": "q", "fontSize": 33, "fontWeight": "bold", "align": "right", "dx": -175, "dy": 55}, "encoding": {"x": {"datum": 0.22, "type": "quantitative"}, "y": {"datum": 0.989, "type": "quantitative"}}}
]},
{"width": 124, "height": 10, "view": {"stroke": null}, "data": {"values": [{}]}, "mark": {"type": "text", "text": ""}, "encoding": {}},
{"width": 503, "height": 362, "layer": [
 {"data": {"name": "hbt"}, "transform": [{"filter": "datum.p=='alp'"}], "mark": {"type": "bar", "size": 21, "opacity": 0.2},
  "encoding": {"x": {"field": "mt", "type": "quantitative", "scale": {"domain": [0.2, 0.671], "nice": false, "zero": false}, "axis": {"title": null, "values": [0.2, 0.3, 0.4, 0.5, 0.6], "format": "~g"}},
   "y": {"field": "lo", "type": "quantitative", "scale": {"domain": [0.214, 2.216], "nice": false, "zero": false}, "axis": {"title": null, "values": [0.5, 1, 1.5, 2], "format": "~g"}},
   "y2": {"field": "hi"},
   "color": {"field": "s", "type": "nominal", "scale": {"domain": ["m", "p"], "range": ["#ff0000", "#0000ff"]}, "legend": null}}},
 {"data": {"name": "hbt"}, "transform": [{"filter": "datum.p=='alp'"}], "mark": {"type": "errorbar", "color": "#000000", "thickness": 1}, "encoding": {"x": {"field": "mt", "type": "quantitative"}, "y": {"field": "v", "type": "quantitative"}, "yError": {"field": "e"}}},
 {"data": {"name": "hbt"}, "transform": [{"filter": "datum.p=='alp'"}], "mark": {"type": "point", "shape": "square", "filled": true, "size": 64, "opacity": 1}, "encoding": {"x": {"field": "mt", "type": "quantitative"}, "y": {"field": "v", "type": "quantitative"}, "color": {"field": "s", "type": "nominal", "scale": {"domain": ["m", "p"], "range": ["#ff0000", "#0000ff"]}, "legend": null}}},
 {"data": {"values": [{}]}, "mark": {"type": "text", "text": "Au+Au,", "fontSize": 17, "fontWeight": "bold"}, "encoding": {"x": {"datum": 0.2318, "type": "quantitative"}, "y": {"datum": 2.0724, "type": "quantitative"}}},
 {"data": {"values": [{}]}, "mark": {"type": "text", "text": "√s", "fontSize": 17, "fontWeight": "bold", "dx": 73}, "encoding": {"x": {"datum": 0.2318, "type": "quantitative"}, "y": {"datum": 2.0724, "type": "quantitative"}}},
 {"data": {"values": [{}]}, "mark": {"type": "text", "text": "NN", "fontSize": 11, "fontWeight": "bold", "dx": 92, "dy": 4}, "encoding": {"x": {"datum": 0.2318, "type": "quantitative"}, "y": {"datum": 2.0724, "type": "quantitative"}}},
 {"data": {"values": [{}]}, "mark": {"type": "text", "text": "= 200 GeV", "fontSize": 17, "fontWeight": "bold", "dx": 110}, "encoding": {"x": {"datum": 0.2318, "type": "quantitative"}, "y": {"datum": 2.0724, "type": "quantitative"}}},
 {"data": {"values": [{}]}, "mark": {"type": "text", "text": "0-10% centrality", "fontSize": 17, "fontWeight": "bold"}, "encoding": {"x": {"datum": 0.2318, "type": "quantitative"}, "y": {"datum": 1.912, "type": "quantitative"}}},
 {"data": {"values": [{}]}, "mark": {"type": "text", "text": "STAR Preliminary", "fontSize": 18, "fontWeight": "bold", "color": "#ff0000", "align": "right"}, "encoding": {"x": {"datum": 0.6635, "type": "quantitative"}, "y": {"datum": 2.0724, "type": "quantitative"}}},
 {"data": {"values": [{}]}, "mark": {"type": "text", "text": "3D Analysis", "fontSize": 18, "fontWeight": "bold"}, "encoding": {"x": {"datum": 0.5146, "type": "quantitative"}, "y": {"datum": 1.912, "type": "quantitative"}}},
 {"data": {"values": [{}]}, "mark": {"type": "point", "shape": "square", "filled": true, "size": 49, "color": "#ff0000", "opacity": 1}, "encoding": {"x": {"datum": 0.2253, "type": "quantitative"}, "y": {"datum": 0.564, "type": "quantitative"}}},
 {"data": {"values": [{}]}, "mark": {"type": "point", "shape": "square", "filled": true, "size": 49, "color": "#0000ff", "opacity": 1}, "encoding": {"x": {"datum": 0.2253, "type": "quantitative"}, "y": {"datum": 0.3652, "type": "quantitative"}}},
 {"data": {"values": [{}]}, "mark": {"type": "text", "text": "π⁻-π⁻", "fontSize": 24}, "encoding": {"x": {"datum": 0.244, "type": "quantitative"}, "y": {"datum": 0.5143, "type": "quantitative"}}},
 {"data": {"values": [{}]}, "mark": {"type": "text", "text": "π⁺-π⁺", "fontSize": 24}, "encoding": {"x": {"datum": 0.244, "type": "quantitative"}, "y": {"datum": 0.321, "type": "quantitative"}}},
 {"data": {"values": [{}]}, "mark": {"type": "text", "text": "[GeV/c²]", "fontSize": 27, "align": "right", "dy": 53}, "encoding": {"x": {"datum": 0.671, "type": "quantitative"}, "y": {"datum": 0.214, "type": "quantitative"}}},
 {"data": {"values": [{}]}, "mark": {"type": "text", "text": "T", "fontSize": 17, "align": "right", "dx": -104, "dy": 60}, "encoding": {"x": {"datum": 0.671, "type": "quantitative"}, "y": {"datum": 0.214, "type": "quantitative"}}},
 {"data": {"values": [{}]}, "mark": {"type": "text", "text": "m", "fontSize": 27, "align": "right", "dx": -115, "dy": 53}, "encoding": {"x": {"datum": 0.671, "type": "quantitative"}, "y": {"datum": 0.214, "type": "quantitative"}}}
]}
], "spacing": 0, "bounds": "flush"},
{"hconcat": [
{"width": 2, "height": 10, "view": {"stroke": null}, "data": {"values": [{}]}, "mark": {"type": "text", "text": ""}, "encoding": {}},
{"width": 443, "height": 399, "layer": [
 {"data": {"name": "hbt"}, "transform": [{"filter": "datum.p=='o'"}], "mark": {"type": "bar", "size": 18, "opacity": 0.2},
  "encoding": {"x": {"field": "mt", "type": "quantitative", "scale": {"domain": [0.21, 0.69], "nice": false, "zero": false}, "axis": {"title": null, "values": [0.3, 0.4, 0.5, 0.6], "format": "~g"}},
   "y": {"field": "lo", "type": "quantitative", "scale": {"domain": [3.2, 13.2], "nice": false, "zero": false}, "axis": {"title": null, "values": [4, 6, 8, 10, 12], "format": "~g"}},
   "y2": {"field": "hi"},
   "color": {"field": "s", "type": "nominal", "scale": {"domain": ["m", "p"], "range": ["#ff0000", "#0000ff"]}, "legend": null}}},
 {"data": {"name": "prc"}, "transform": [{"filter": "datum.p=='o'"}], "mark": {"type": "bar", "size": 19, "fill": "#ebebeb", "stroke": "#555555", "strokeWidth": 1.5}, "encoding": {"x": {"field": "mt", "type": "quantitative"}, "y": {"field": "lo", "type": "quantitative"}, "y2": {"field": "hi"}}},
 {"data": {"name": "hbt"}, "transform": [{"filter": "datum.p=='o'"}], "mark": {"type": "errorbar", "color": "#000000", "thickness": 1}, "encoding": {"x": {"field": "mt", "type": "quantitative"}, "y": {"field": "v", "type": "quantitative"}, "yError": {"field": "e"}}},
 {"data": {"name": "hbt"}, "transform": [{"filter": "datum.p=='o'"}], "mark": {"type": "point", "shape": "square", "filled": true, "size": 64, "opacity": 1}, "encoding": {"x": {"field": "mt", "type": "quantitative"}, "y": {"field": "v", "type": "quantitative"}, "color": {"field": "s", "type": "nominal", "scale": {"domain": ["m", "p"], "range": ["#ff0000", "#0000ff"]}, "legend": null}}},
 {"data": {"name": "prc"}, "transform": [{"filter": "datum.p=='o'"}], "mark": {"type": "point", "shape": "cross", "filled": true, "size": 50, "color": "#000000", "opacity": 1}, "encoding": {"x": {"field": "mt", "type": "quantitative"}, "y": {"field": "v", "type": "quantitative"}}},
 {"data": {"values": [{}]}, "mark": {"type": "text", "text": "STAR, Au+Au @", "fontSize": 21, "fontWeight": "bold"}, "encoding": {"x": {"datum": 0.2403, "type": "quantitative"}, "y": {"datum": 12.573, "type": "quantitative"}}},
 {"data": {"values": [{}]}, "mark": {"type": "text", "text": "√s", "fontSize": 21, "fontWeight": "bold", "dx": 182}, "encoding": {"x": {"datum": 0.2403, "type": "quantitative"}, "y": {"datum": 12.573, "type": "quantitative"}}},
 {"data": {"values": [{}]}, "mark": {"type": "text", "text": "NN", "fontSize": 13, "fontWeight": "bold", "dx": 206, "dy": 6}, "encoding": {"x": {"datum": 0.2403, "type": "quantitative"}, "y": {"datum": 12.573, "type": "quantitative"}}},
 {"data": {"values": [{}]}, "mark": {"type": "text", "text": "= 200 GeV", "fontSize": 21, "fontWeight": "bold", "dx": 230}, "encoding": {"x": {"datum": 0.2403, "type": "quantitative"}, "y": {"datum": 12.573, "type": "quantitative"}}},
 {"data": {"values": [{}]}, "mark": {"type": "text", "text": "R", "fontSize": 31, "fontWeight": "bold"}, "encoding": {"x": {"datum": 0.2425, "type": "quantitative"}, "y": {"datum": 3.852, "type": "quantitative"}}},
 {"data": {"values": [{}]}, "mark": {"type": "text", "text": "out", "fontSize": 22, "fontWeight": "bold", "dx": 23, "dy": 9}, "encoding": {"x": {"datum": 0.2425, "type": "quantitative"}, "y": {"datum": 3.852, "type": "quantitative"}}},
 {"data": {"values": [{}]}, "mark": {"type": "text", "text": "R [fm]", "fontSize": 27, "angle": 270}, "encoding": {"x": {"datum": 0.1318, "type": "quantitative"}, "y": {"datum": 11.395, "type": "quantitative"}}},
 {"data": {"values": [{}]}, "mark": {"type": "text", "text": "[GeV/c²]", "fontSize": 27, "align": "right", "dy": 52}, "encoding": {"x": {"datum": 0.69, "type": "quantitative"}, "y": {"datum": 3.2, "type": "quantitative"}}},
 {"data": {"values": [{}]}, "mark": {"type": "text", "text": "T", "fontSize": 17, "align": "right", "dx": -104, "dy": 59}, "encoding": {"x": {"datum": 0.69, "type": "quantitative"}, "y": {"datum": 3.2, "type": "quantitative"}}},
 {"data": {"values": [{}]}, "mark": {"type": "text", "text": "m", "fontSize": 27, "align": "right", "dx": -115, "dy": 52}, "encoding": {"x": {"datum": 0.69, "type": "quantitative"}, "y": {"datum": 3.2, "type": "quantitative"}}}
]},
{"width": 499, "height": 399, "layer": [
 {"data": {"name": "hbt"}, "transform": [{"filter": "datum.p=='s'"}], "mark": {"type": "bar", "size": 21, "opacity": 0.2},
  "encoding": {"x": {"field": "mt", "type": "quantitative", "scale": {"domain": [0.21, 0.69], "nice": false, "zero": false}, "axis": {"title": null, "values": [0.3, 0.4, 0.5, 0.6], "format": "~g"}},
   "y": {"field": "lo", "type": "quantitative", "scale": {"domain": [3.2, 13.2], "nice": false, "zero": false}, "axis": {"title": null, "values": [4, 6, 8, 10, 12], "labels": false}},
   "y2": {"field": "hi"},
   "color": {"field": "s", "type": "nominal", "scale": {"domain": ["m", "p"], "range": ["#ff0000", "#0000ff"]}, "legend": null}}},
 {"data": {"name": "prc"}, "transform": [{"filter": "datum.p=='s'"}], "mark": {"type": "bar", "size": 21, "fill": "#ebebeb", "stroke": "#555555", "strokeWidth": 1.5}, "encoding": {"x": {"field": "mt", "type": "quantitative"}, "y": {"field": "lo", "type": "quantitative"}, "y2": {"field": "hi"}}},
 {"data": {"name": "hbt"}, "transform": [{"filter": "datum.p=='s'"}], "mark": {"type": "errorbar", "color": "#000000", "thickness": 1}, "encoding": {"x": {"field": "mt", "type": "quantitative"}, "y": {"field": "v", "type": "quantitative"}, "yError": {"field": "e"}}},
 {"data": {"name": "hbt"}, "transform": [{"filter": "datum.p=='s'"}], "mark": {"type": "point", "shape": "square", "filled": true, "size": 64, "opacity": 1}, "encoding": {"x": {"field": "mt", "type": "quantitative"}, "y": {"field": "v", "type": "quantitative"}, "color": {"field": "s", "type": "nominal", "scale": {"domain": ["m", "p"], "range": ["#ff0000", "#0000ff"]}, "legend": null}}},
 {"data": {"name": "prc"}, "transform": [{"filter": "datum.p=='s'"}], "mark": {"type": "point", "shape": "cross", "filled": true, "size": 50, "color": "#000000", "opacity": 1}, "encoding": {"x": {"field": "mt", "type": "quantitative"}, "y": {"field": "v", "type": "quantitative"}}},
 {"data": {"values": [{}]}, "mark": {"type": "point", "shape": "square", "filled": true, "size": 56, "color": "#ff0000", "opacity": 1}, "encoding": {"x": {"datum": 0.336, "type": "quantitative"}, "y": {"datum": 12.248, "type": "quantitative"}}},
 {"data": {"values": [{}]}, "mark": {"type": "point", "shape": "square", "filled": true, "size": 56, "color": "#0000ff", "opacity": 1}, "encoding": {"x": {"datum": 0.336, "type": "quantitative"}, "y": {"datum": 10.794, "type": "quantitative"}}},
 {"data": {"values": [{}]}, "mark": {"type": "text", "text": "π⁻-π⁻ (0-10%), avg. α~1.3", "fontSize": 24}, "encoding": {"x": {"datum": 0.386, "type": "quantitative"}, "y": {"datum": 12.072, "type": "quantitative"}}},
 {"data": {"values": [{}]}, "mark": {"type": "text", "text": "π⁺-π⁺ (0-10%), avg. α~1.3", "fontSize": 24}, "encoding": {"x": {"datum": 0.386, "type": "quantitative"}, "y": {"datum": 10.644, "type": "quantitative"}}},
 {"data": {"values": [{}]}, "mark": {"type": "text", "text": "R", "fontSize": 31, "fontWeight": "bold"}, "encoding": {"x": {"datum": 0.26, "type": "quantitative"}, "y": {"datum": 3.852, "type": "quantitative"}}},
 {"data": {"values": [{}]}, "mark": {"type": "text", "text": "side", "fontSize": 22, "fontWeight": "bold", "dx": 23, "dy": 9}, "encoding": {"x": {"datum": 0.26, "type": "quantitative"}, "y": {"datum": 3.852, "type": "quantitative"}}},
 {"data": {"values": [{}]}, "mark": {"type": "text", "text": "[GeV/c²]", "fontSize": 27, "align": "right", "dy": 52}, "encoding": {"x": {"datum": 0.69, "type": "quantitative"}, "y": {"datum": 3.2, "type": "quantitative"}}},
 {"data": {"values": [{}]}, "mark": {"type": "text", "text": "T", "fontSize": 17, "align": "right", "dx": -104, "dy": 59}, "encoding": {"x": {"datum": 0.69, "type": "quantitative"}, "y": {"datum": 3.2, "type": "quantitative"}}},
 {"data": {"values": [{}]}, "mark": {"type": "text", "text": "m", "fontSize": 27, "align": "right", "dx": -115, "dy": 52}, "encoding": {"x": {"datum": 0.69, "type": "quantitative"}, "y": {"datum": 3.2, "type": "quantitative"}}}
]},
{"width": 450, "height": 399, "layer": [
 {"data": {"name": "hbt"}, "transform": [{"filter": "datum.p=='l'"}], "mark": {"type": "bar", "size": 19, "opacity": 0.2},
  "encoding": {"x": {"field": "mt", "type": "quantitative", "scale": {"domain": [0.21, 0.69], "nice": false, "zero": false}, "axis": {"title": null, "values": [0.3, 0.4, 0.5, 0.6], "format": "~g"}},
   "y": {"field": "lo", "type": "quantitative", "scale": {"domain": [3.2, 13.2], "nice": false, "zero": false}, "axis": {"title": null, "values": [4, 6, 8, 10, 12], "labels": false}},
   "y2": {"field": "hi"},
   "color": {"field": "s", "type": "nominal", "scale": {"domain": ["m", "p"], "range": ["#ff0000", "#0000ff"]}, "legend": null}}},
 {"data": {"name": "prc"}, "transform": [{"filter": "datum.p=='l'"}], "mark": {"type": "bar", "size": 19, "fill": "#ebebeb", "stroke": "#555555", "strokeWidth": 1.5}, "encoding": {"x": {"field": "mt", "type": "quantitative"}, "y": {"field": "lo", "type": "quantitative"}, "y2": {"field": "hi"}}},
 {"data": {"name": "hbt"}, "transform": [{"filter": "datum.p=='l'"}], "mark": {"type": "errorbar", "color": "#000000", "thickness": 1}, "encoding": {"x": {"field": "mt", "type": "quantitative"}, "y": {"field": "v", "type": "quantitative"}, "yError": {"field": "e"}}},
 {"data": {"name": "hbt"}, "transform": [{"filter": "datum.p=='l'"}], "mark": {"type": "point", "shape": "square", "filled": true, "size": 64, "opacity": 1}, "encoding": {"x": {"field": "mt", "type": "quantitative"}, "y": {"field": "v", "type": "quantitative"}, "color": {"field": "s", "type": "nominal", "scale": {"domain": ["m", "p"], "range": ["#ff0000", "#0000ff"]}, "legend": null}}},
 {"data": {"name": "prc"}, "transform": [{"filter": "datum.p=='l'"}], "mark": {"type": "point", "shape": "cross", "filled": true, "size": 50, "color": "#000000", "opacity": 1}, "encoding": {"x": {"field": "mt", "type": "quantitative"}, "y": {"field": "v", "type": "quantitative"}}},
 {"data": {"values": [{}]}, "mark": {"type": "text", "text": "STAR Preliminary", "fontSize": 26, "fontWeight": "bold", "color": "#ff0000", "align": "right"}, "encoding": {"x": {"datum": 0.6761, "type": "quantitative"}, "y": {"datum": 12.323, "type": "quantitative"}}},
 {"data": {"values": [{}]}, "mark": {"type": "point", "shape": "cross", "filled": true, "size": 50, "color": "#000000", "opacity": 1}, "encoding": {"x": {"datum": 0.4091, "type": "quantitative"}, "y": {"datum": 10.819, "type": "quantitative"}}},
 {"data": {"values": [{}]}, "mark": {"type": "text", "text": "STAR PRC 2015,", "fontSize": 25}, "encoding": {"x": {"datum": 0.4489, "type": "quantitative"}, "y": {"datum": 10.944, "type": "quantitative"}}},
 {"data": {"values": [{}]}, "mark": {"type": "text", "text": "π±-π±(0-5%), α=2.0", "fontSize": 25}, "encoding": {"x": {"datum": 0.4489, "type": "quantitative"}, "y": {"datum": 10.142, "type": "quantitative"}}},
 {"data": {"values": [{}]}, "mark": {"type": "text", "text": "R", "fontSize": 31, "fontWeight": "bold"}, "encoding": {"x": {"datum": 0.2399, "type": "quantitative"}, "y": {"datum": 4.102, "type": "quantitative"}}},
 {"data": {"values": [{}]}, "mark": {"type": "text", "text": "long", "fontSize": 22, "fontWeight": "bold", "dx": 23, "dy": 9}, "encoding": {"x": {"datum": 0.2399, "type": "quantitative"}, "y": {"datum": 4.102, "type": "quantitative"}}},
 {"data": {"values": [{}]}, "mark": {"type": "text", "text": "[GeV/c²]", "fontSize": 27, "align": "right", "dy": 52}, "encoding": {"x": {"datum": 0.69, "type": "quantitative"}, "y": {"datum": 3.2, "type": "quantitative"}}},
 {"data": {"values": [{}]}, "mark": {"type": "text", "text": "T", "fontSize": 17, "align": "right", "dx": -104, "dy": 59}, "encoding": {"x": {"datum": 0.69, "type": "quantitative"}, "y": {"datum": 3.2, "type": "quantitative"}}},
 {"data": {"values": [{}]}, "mark": {"type": "text", "text": "m", "fontSize": 27, "align": "right", "dx": -115, "dy": 52}, "encoding": {"x": {"datum": 0.69, "type": "quantitative"}, "y": {"datum": 3.2, "type": "quantitative"}}}
]},
{"width": 125, "height": 10, "view": {"stroke": null}, "data": {"values": [{}]}, "mark": {"type": "text", "text": ""}, "encoding": {}},
{"width": 503, "height": 398, "layer": [
 {"data": {"name": "hbt"}, "transform": [{"filter": "datum.p=='lam'"}], "mark": {"type": "bar", "size": 21, "opacity": 0.2},
  "encoding": {"x": {"field": "mt", "type": "quantitative", "scale": {"domain": [0.2, 0.671], "nice": false, "zero": false}, "axis": {"title": null, "values": [0.2, 0.3, 0.4, 0.5, 0.6], "format": "~g"}},
   "y": {"field": "lo", "type": "quantitative", "scale": {"domain": [0.014, 1.626], "nice": false, "zero": false}, "axis": {"title": null, "values": [0.5, 1, 1.5], "format": "~g"}},
   "y2": {"field": "hi"},
   "color": {"field": "s", "type": "nominal", "scale": {"domain": ["m", "p"], "range": ["#ff0000", "#0000ff"]}, "legend": null}}},
 {"data": {"name": "hbt"}, "transform": [{"filter": "datum.p=='lam'"}], "mark": {"type": "errorbar", "color": "#000000", "thickness": 1}, "encoding": {"x": {"field": "mt", "type": "quantitative"}, "y": {"field": "v", "type": "quantitative"}, "yError": {"field": "e"}}},
 {"data": {"name": "hbt"}, "transform": [{"filter": "datum.p=='lam'"}], "mark": {"type": "point", "shape": "square", "filled": true, "size": 64, "opacity": 1}, "encoding": {"x": {"field": "mt", "type": "quantitative"}, "y": {"field": "v", "type": "quantitative"}, "color": {"field": "s", "type": "nominal", "scale": {"domain": ["m", "p"], "range": ["#ff0000", "#0000ff"]}, "legend": null}}},
 {"data": {"values": [{}]}, "mark": {"type": "text", "text": "Au+Au,", "fontSize": 17, "fontWeight": "bold"}, "encoding": {"x": {"datum": 0.2318, "type": "quantitative"}, "y": {"datum": 1.504, "type": "quantitative"}}},
 {"data": {"values": [{}]}, "mark": {"type": "text", "text": "√s", "fontSize": 17, "fontWeight": "bold", "dx": 73}, "encoding": {"x": {"datum": 0.2318, "type": "quantitative"}, "y": {"datum": 1.504, "type": "quantitative"}}},
 {"data": {"values": [{}]}, "mark": {"type": "text", "text": "NN", "fontSize": 11, "fontWeight": "bold", "dx": 92, "dy": 4}, "encoding": {"x": {"datum": 0.2318, "type": "quantitative"}, "y": {"datum": 1.504, "type": "quantitative"}}},
 {"data": {"values": [{}]}, "mark": {"type": "text", "text": "= 200 GeV", "fontSize": 17, "fontWeight": "bold", "dx": 110}, "encoding": {"x": {"datum": 0.2318, "type": "quantitative"}, "y": {"datum": 1.504, "type": "quantitative"}}},
 {"data": {"values": [{}]}, "mark": {"type": "text", "text": "0-10% centrality", "fontSize": 17, "fontWeight": "bold"}, "encoding": {"x": {"datum": 0.2318, "type": "quantitative"}, "y": {"datum": 1.3745, "type": "quantitative"}}},
 {"data": {"values": [{}]}, "mark": {"type": "text", "text": "STAR Preliminary", "fontSize": 18, "fontWeight": "bold", "color": "#ff0000", "align": "right"}, "encoding": {"x": {"datum": 0.6635, "type": "quantitative"}, "y": {"datum": 1.504, "type": "quantitative"}}},
 {"data": {"values": [{}]}, "mark": {"type": "text", "text": "3D Analysis", "fontSize": 18, "fontWeight": "bold"}, "encoding": {"x": {"datum": 0.5146, "type": "quantitative"}, "y": {"datum": 1.3745, "type": "quantitative"}}},
 {"data": {"values": [{}]}, "mark": {"type": "point", "shape": "square", "filled": true, "size": 49, "color": "#ff0000", "opacity": 1}, "encoding": {"x": {"datum": 0.2253, "type": "quantitative"}, "y": {"datum": 0.2976, "type": "quantitative"}}},
 {"data": {"values": [{}]}, "mark": {"type": "point", "shape": "square", "filled": true, "size": 49, "color": "#0000ff", "opacity": 1}, "encoding": {"x": {"datum": 0.2253, "type": "quantitative"}, "y": {"datum": 0.1356, "type": "quantitative"}}},
 {"data": {"values": [{}]}, "mark": {"type": "text", "text": "π⁻-π⁻", "fontSize": 24}, "encoding": {"x": {"datum": 0.244, "type": "quantitative"}, "y": {"datum": 0.2611, "type": "quantitative"}}},
 {"data": {"values": [{}]}, "mark": {"type": "text", "text": "π⁺-π⁺", "fontSize": 24}, "encoding": {"x": {"datum": 0.244, "type": "quantitative"}, "y": {"datum": 0.0992, "type": "quantitative"}}},
 {"data": {"values": [{}]}, "mark": {"type": "text", "text": "λ", "fontSize": 22, "angle": 270}, "encoding": {"x": {"datum": 0.1575, "type": "quantitative"}, "y": {"datum": 1.5526, "type": "quantitative"}}},
 {"data": {"values": [{}]}, "mark": {"type": "text", "text": "[GeV/c²]", "fontSize": 27, "align": "right", "dy": 53}, "encoding": {"x": {"datum": 0.671, "type": "quantitative"}, "y": {"datum": 0.014, "type": "quantitative"}}},
 {"data": {"values": [{}]}, "mark": {"type": "text", "text": "T", "fontSize": 17, "align": "right", "dx": -104, "dy": 60}, "encoding": {"x": {"datum": 0.671, "type": "quantitative"}, "y": {"datum": 0.014, "type": "quantitative"}}},
 {"data": {"values": [{}]}, "mark": {"type": "text", "text": "m", "fontSize": 27, "align": "right", "dx": -115, "dy": 53}, "encoding": {"x": {"datum": 0.671, "type": "quantitative"}, "y": {"datum": 0.014, "type": "quantitative"}}}
]}
], "spacing": 0, "bounds": "flush"}
],
"config": {
 "view": {"stroke": "#c8c8c8", "strokeWidth": 1.5},
 "axis": {"domain": false, "grid": false, "ticks": true, "tickColor": "#a8a8a8", "tickSize": -13, "tickWidth": 1, "labelFont": "Liberation Sans", "labelColor": "#000000", "labelFontSize": 22, "labelOverlap": false, "labelFlush": false},
 "axisX": {"labelPadding": 21},
 "axisY": {"labelPadding": 16},
 "text": {"font": "Liberation Sans", "baseline": "alphabetic", "align": "left", "color": "#000000"}
}
}
